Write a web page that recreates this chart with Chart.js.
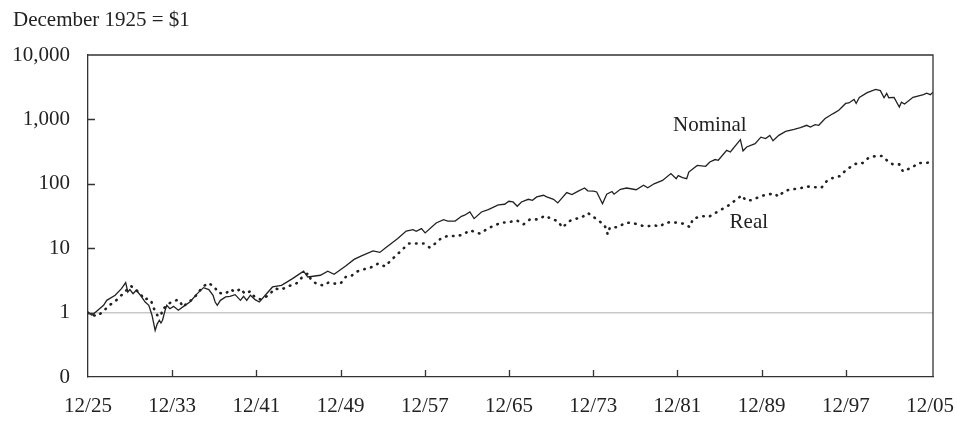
<!DOCTYPE html>
<html>
<head>
<meta charset="utf-8">
<script src="https://cdn.jsdelivr.net/npm/chart.js@4.4.1/dist/chart.umd.min.js"></script>
<style>
  html, body { margin: 0; padding: 0; background: #fff; }
  #wrap { width: 960px; height: 421px; }
</style>
</head>
<body>
<div id="wrap"><canvas id="growth" width="960" height="421"></canvas></div>
<script>
// Growth of $1 invested in December 1925 (log scale)
const nominalYears = [
  1925.92, 1926.3, 1927.4, 1927.7, 1928.5, 1929.1, 1929.5, 1929.7, 1929.9, 1930.2,
  1930.5, 1930.9, 1931.35, 1931.7, 1932.0, 1932.3, 1932.5, 1932.7, 1932.85, 1933.0,
  1933.25, 1933.4, 1933.7, 1934.05, 1934.5, 1935.0, 1935.6, 1936.3, 1936.9, 1937.4,
  1937.8, 1938.0, 1938.2, 1938.5, 1939.0, 1939.4, 1939.9, 1940.4, 1940.7, 1941.0,
  1941.35, 1941.8, 1942.2, 1943.45, 1944.3, 1945.35, 1946.4, 1946.8, 1948.0, 1948.7,
  1949.3, 1950.4, 1951.2, 1951.9, 1953.0, 1953.65, 1954.2, 1955.35, 1956.15, 1956.8,
  1957.1, 1957.6, 1957.95, 1959.0, 1959.7, 1960.1, 1960.8, 1961.4, 1961.7, 1962.2,
  1962.6, 1963.3, 1963.95, 1964.9, 1965.5, 1965.9, 1966.3, 1966.7, 1967.1, 1967.75,
  1968.15, 1968.55, 1969.2, 1969.5, 1970.15, 1970.55, 1970.9, 1971.4, 1971.9, 1972.45,
  1973.1, 1973.4, 1973.95, 1974.25, 1974.8, 1975.2, 1975.7, 1975.9, 1976.5, 1977.1,
  1978.0, 1978.7, 1979.1, 1979.7, 1980.5, 1981.3, 1981.8, 1982.0, 1982.4, 1982.8,
  1983.0, 1983.8, 1984.6, 1985.0, 1985.5, 1985.8, 1986.6, 1986.95, 1987.9, 1988.15,
  1988.5, 1989.3, 1989.85, 1990.3, 1990.7, 1991.0, 1991.55, 1992.2, 1993.0, 1993.6,
  1994.2, 1994.55, 1995.0, 1995.35, 1995.95, 1996.6, 1996.8, 1997.25, 1997.9, 1998.2,
  1998.7, 1998.9, 1999.2, 1999.95, 2000.75, 2001.2, 2001.55, 2001.8, 2002.0, 2002.5,
  2003.0, 2003.2, 2003.5, 2004.3, 2005.3, 2005.6, 2005.95, 2006.2
];
const nominalValues = [
  1.00, 0.91, 1.30, 1.55, 1.86, 2.36, 2.92, 2.09, 2.28, 1.97,
  2.22, 1.86, 1.46, 1.30, 0.91, 0.53, 0.67, 0.76, 0.69, 0.76,
  1.09, 1.30, 1.15, 1.25, 1.09, 1.25, 1.46, 1.97, 2.44, 2.28,
  1.86, 1.46, 1.30, 1.55, 1.75, 1.79, 1.90, 1.55, 1.79, 1.55,
  1.86, 1.59, 1.46, 2.50, 2.65, 3.37, 4.40, 3.57, 3.80, 4.40,
  3.93, 5.30, 6.7, 7.6, 9.1, 8.6, 10.2, 14.1, 18.5, 19.4,
  18.3, 20.1, 17.3, 24.6, 27.7, 26.4, 26.4, 31.3, 32.5, 36.5,
  28.8, 36.5, 39.7, 46.9, 48.1, 53.5, 52.2, 44.8, 52.2, 57.5,
  55.5, 62.6, 66.3, 62.6, 57.5, 50.5, 58.9, 73, 68, 76.3,
  86, 77.7, 77, 74.7, 49, 69, 76, 69, 82, 86,
  81, 95, 87, 100, 113, 144, 120, 134, 125, 120,
  152, 193, 187, 218, 238, 232, 330, 312, 485, 323,
  373, 420, 530, 505, 565, 465, 565, 650, 700, 745,
  810, 760, 830, 810, 1030, 1200, 1250, 1390, 1770, 1800,
  2040, 1770, 2200, 2600, 2930, 2800, 2170, 2530, 2170, 2200,
  1560, 1850, 1730, 2200, 2420, 2560, 2420, 2650
];

const realYears = [
  1925.92, 1926.1, 1926.8, 1927.4, 1927.95, 1928.6, 1929.15, 1930.0, 1930.6, 1930.95,
  1931.25, 1931.6, 1931.9, 1932.15, 1932.5, 1932.85, 1933.0, 1933.4, 1933.7, 1934.1,
  1934.5, 1935.0, 1935.3, 1935.9, 1936.75, 1937.3, 1937.9, 1938.3, 1939.0, 1939.45,
  1939.9, 1940.45, 1940.8, 1941.35, 1941.7, 1942.3, 1943.1, 1943.65, 1944.3, 1944.9,
  1945.7, 1946.2, 1946.85, 1947.1, 1947.6, 1948.3, 1948.75, 1949.3, 1949.9, 1950.4,
  1950.9, 1951.4, 1952.1, 1952.9, 1953.5, 1954.15, 1954.7, 1955.3, 1955.8, 1956.4,
  1957.1, 1957.8, 1958.4, 1958.9, 1959.5, 1960.2, 1960.9, 1961.6, 1962.2, 1962.7,
  1963.2, 1963.85, 1964.5, 1965.2, 1965.9, 1966.65, 1967.3, 1967.9, 1968.7, 1969.35,
  1969.9, 1970.55, 1971.0, 1971.6, 1972.15, 1972.8, 1973.4, 1973.95, 1974.6, 1975.0,
  1975.3, 1975.5, 1976.3, 1976.95, 1977.6, 1978.35, 1979.0, 1979.65, 1980.3, 1980.7,
  1981.35, 1982.0, 1982.5, 1983.1, 1983.4, 1984.25, 1984.9, 1985.5, 1986.15, 1986.8,
  1987.5, 1988.05, 1988.4, 1988.9, 1989.7, 1990.1, 1990.7, 1991.2, 1991.5, 1992.1,
  1992.7, 1993.45, 1994.2, 1994.8, 1995.6, 1996.1, 1996.75, 1997.4, 1997.9, 1998.6,
  1999.1, 1999.5, 2000.1, 2000.75, 2001.4, 2001.95, 2002.4, 2003.0, 2003.35, 2003.75,
  2004.2, 2004.8, 2005.5, 2006.2
];
const realValues = [
  1.00, 0.94, 0.88, 1.06, 1.30, 1.55, 1.90, 2.59, 2.17, 1.92,
  1.59, 1.65, 1.55, 1.18, 0.91, 0.88, 1.15, 1.25, 1.41, 1.51,
  1.59, 1.22, 1.41, 1.61, 2.44, 2.88, 2.56, 2.02, 1.97, 2.30,
  2.09, 2.36, 1.97, 2.14, 1.79, 1.60, 1.86, 2.36, 2.28, 2.56,
  2.82, 3.45, 4.10, 3.25, 2.82, 2.62, 2.92, 2.82, 2.82, 3.57,
  3.66, 4.3, 4.7, 5.1, 5.8, 5.2, 6.5, 8.0, 9.6, 11.8,
  11.8, 11.8, 10.2, 11.8, 14.4, 15.7, 15.3, 16.4, 19, 17.8,
  16.8, 20.1, 22.4, 25, 25.3, 27.1, 23.5, 28, 28, 32,
  28.7, 26.4, 20.9, 26.1, 28.4, 29.8, 35.2, 30.6, 25.5, 22.7,
  16.4, 20.9, 21.3, 24.6, 25, 22.7, 21.8, 22.7, 21.8, 24.6,
  25.5, 24.6, 24, 21.3, 28.7, 31.6, 30.6, 35.2, 40.2, 46.3,
  56.8, 66.3, 55.5, 55.5, 62.6, 66, 69, 70, 63, 77.5,
  82, 84, 91, 89, 87, 110, 125, 132, 162, 194,
  213, 210, 255, 270, 270, 220, 200, 200, 155, 167,
  178, 210, 210, 220
];

const xTickYears = [1925.92, 1933.92, 1941.92, 1949.92, 1957.92, 1965.92, 1973.92, 1981.92, 1989.92, 1997.92, 2005.92];
const xTickLabels = ['12/25', '12/33', '12/41', '12/49', '12/57', '12/65', '12/73', '12/81', '12/89', '12/97', '12/05'];
const yTickValues = [0.1, 1, 10, 100, 1000, 10000];
const yTickLabels = ['0', '1', '10', '100', '1,000', '10,000'];

const ink = '#222';
const serif = '"Liberation Serif", "DejaVu Serif", serif';

Chart.defaults.font.family = serif;
Chart.defaults.font.size = 21;
Chart.defaults.color = ink;

// frame, inward tick marks, title and series labels
const decorations = {
  id: 'decorations',
  afterDraw(chart) {
    const { ctx, chartArea: a, scales } = chart;
    ctx.save();
    ctx.strokeStyle = '#333';
    ctx.lineWidth = 1.3;
    ctx.beginPath();
    ctx.moveTo(a.left, a.top);
    ctx.lineTo(a.right, a.top);
    ctx.lineTo(a.right, a.bottom);
    ctx.stroke();

    ctx.beginPath();
    yTickValues.forEach(v => {
      const y = Math.round(scales.y.getPixelForValue(v)) + 0.5;
      if (y > a.top + 2 && y < a.bottom - 2) {
        ctx.moveTo(a.left, y);
        ctx.lineTo(a.left + 7, y);
      }
    });
    xTickYears.forEach(v => {
      const x = Math.round(scales.x.getPixelForValue(v)) + 0.5;
      if (x > a.left + 2 && x < a.right - 5) {
        ctx.moveTo(x, a.bottom);
        ctx.lineTo(x, a.bottom - 7);
      }
    });
    ctx.stroke();

    ctx.fillStyle = ink;
    ctx.font = '21px ' + serif;
    ctx.textBaseline = 'middle';
    ctx.textAlign = 'left';
    ctx.fillText('December 1925 = $1', 13, 20);

    ctx.textAlign = 'center';
    ctx.fillText('Nominal', scales.x.getPixelForValue(1985.0), scales.y.getPixelForValue(800));
    ctx.fillText('Real', scales.x.getPixelForValue(1988.7), scales.y.getPixelForValue(25.2));
    ctx.restore();
  }
};

const ctx = document.getElementById('growth').getContext('2d');
const growthChart = new Chart(ctx, {
  type: 'line',
  data: {
    datasets: [
      {
        label: 'Nominal',
        data: nominalYears.map((x, i) => ({ x, y: nominalValues[i] })),
        borderColor: ink,
        borderWidth: 1.3,
        pointRadius: 0,
        tension: 0
      },
      {
        label: 'Real',
        data: realYears.map((x, i) => ({ x, y: realValues[i] })),
        borderColor: ink,
        borderWidth: 2.6,
        borderDash: [0.5, 6.5],
        borderCapStyle: 'round',
        pointRadius: 0,
        tension: 0
      }
    ]
  },
  options: {
    responsive: false,
    devicePixelRatio: 1,
    animation: false,
    layout: { padding: { top: 55, right: 27, left: 0, bottom: 0 } },
    plugins: {
      legend: { display: false },
      tooltip: { enabled: false }
    },
    scales: {
      x: {
        type: 'linear',
        min: 1925.92,
        max: 2006.2,
        afterBuildTicks: scale => { scale.ticks = xTickYears.map(v => ({ value: v })); },
        afterFit: scale => {
          scale.height = 44;
          scale.paddingLeft = 0;
          scale.paddingRight = 0;
        },
        ticks: {
          autoSkip: false,
          maxRotation: 0,
          padding: 17,
          callback: (value, index) => xTickLabels[index]
        },
        grid: { display: false, drawTicks: false },
        border: { display: true, color: '#333', width: 1.3 }
      },
      y: {
        type: 'logarithmic',
        min: 0.1,
        max: 10000,
        afterBuildTicks: scale => { scale.ticks = yTickValues.map(v => ({ value: v })); },
        afterFit: scale => {
          scale.width = 88;
          scale.paddingTop = 0;
          scale.paddingBottom = 0;
        },
        ticks: {
          padding: 18,
          callback: (value, index) => yTickLabels[index]
        },
        grid: {
          drawTicks: false,
          lineWidth: 1.5,
          color: c => (c.tick && c.tick.value === 1 ? '#c8c8c8' : 'rgba(0,0,0,0)')
        },
        border: { display: true, color: '#333', width: 1.3 }
      }
    }
  },
  plugins: [decorations]
});
</script>
</body>
</html>
